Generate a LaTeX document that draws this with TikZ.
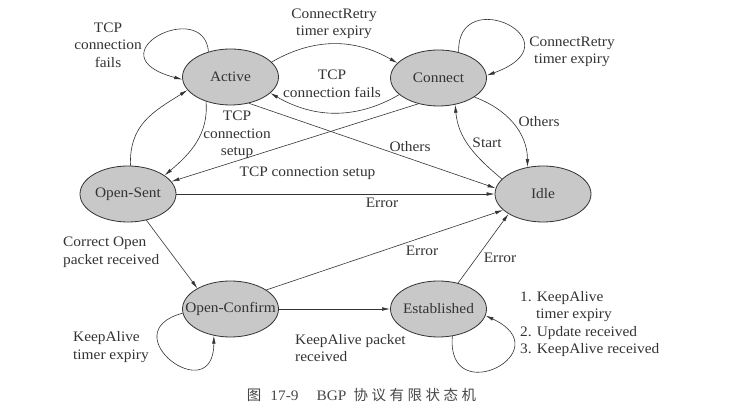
\documentclass[tikz,border=0pt]{standalone}
\usepackage{fontspec}
\setmainfont{Liberation Serif}[FakeStretch=1.06]
\newfontfamily\cjk{Noto Sans CJK SC}
\usetikzlibrary{shapes.geometric,arrows.meta}
\definecolor{ink}{HTML}{333333}
\definecolor{statefill}{HTML}{C8C8C8}
\tikzset{
  st/.style={ellipse, draw=ink, line width=0.8pt, fill=statefill, minimum width=96pt, minimum height=56pt, inner sep=0pt, text=ink},
  lbl/.style={inner sep=0pt, text=ink, align=center},
  lbll/.style={inner sep=0pt, text=ink, align=left, anchor=west},
  arr/.style={draw=ink, line width=0.6pt, -{Latex[length=8pt,width=3.6pt]}},
}
\begin{document}
\begin{tikzpicture}[x=1pt,y=1pt,font=\fontsize{14.5}{17.5}\selectfont]
\useasboundingbox (0,0) rectangle (745,-411);
% states
\node[st] (A)  at (230.5,-77)  {\makebox[0pt]{Active}};
\node[st] (C)  at (438.5,-78)  {\makebox[0pt]{Connect}};
\node[st] (I)  at (543,-194)   {\makebox[0pt]{Idle}};
\node[st] (OS) at (128,-194)   {\makebox[0pt]{Open-Sent}};
\node[st] (OC) at (230.5,-309) {\makebox[0pt]{Open-Confirm}};
\node[st] (E)  at (438.5,-309) {\makebox[0pt]{Established}};
% transitions
\draw[arr] (A.131) .. controls +(95:55) and +(165:95) .. (A.183);
\draw[arr] (A.20) to[out=30,in=150] (C.160);
\draw[arr] (C.203) to[out=-150,in=-30] (A.-22);
\draw[arr] (C.52) .. controls +(92:70) and +(20:100) .. (C.3);
\draw[arr] (C.-28) to[out=-20,in=90] (I.120);
\draw[arr] (I.160) to[out=140,in=-85] (C.-58);
\draw[arr] (A.-55) -- (I.173);
\draw[arr] (C.-128) -- (OS.16);
\draw[arr] (A.-135) to[out=-85,in=40] (OS.27);
\draw[arr] (OS.85) to[out=92,in=212,looseness=1.1] (A.197);
\draw[arr] (OS.east) -- (I.west);
\draw[arr] (OS.-55) -- (OC.148);
\draw[arr] (OC.28) -- (I.202);
\draw[arr] (OC.east) -- (E.west);
\draw[arr] (E.53) -- (I.210);
\draw[arr] (OC.185) .. controls +(195:75) and +(-90:75) .. (OC.238);
\draw[arr] (E.-63) .. controls +(-95:75) and +(-25:85) .. (E.-8);
% labels
\node[lbl] (l1) at (108,-45) {TCP\\connection\\fails};
\node[lbl] (l2) at (334,-24) {ConnectRetry\\timer expiry};
\node[lbl] (l3) at (332,-84) {TCP\\connection fails};
\node[lbl] (l4) at (572,-52) {ConnectRetry\\timer expiry};
\node[lbl] (l5) at (539,-122) {Others};
\node[lbl] (l6) at (487,-143) {Start};
\node[lbl] (l7) at (410,-147) {Others};
\node[lbl] (l8) at (237,-135) {TCP\\connection\\setup};
\node[lbl] (l9) at (307.5,-173) {TCP connection setup};
\node[lbl] (l10) at (382,-203) {Error};
\node[lbll] (l11) at (63,-252) {Correct Open\\packet received};
\node[lbl] (l12) at (422,-251) {Error};
\node[lbl] (l13) at (500,-258) {Error};
\node[lbll] (l14) at (73,-347) {KeepAlive\\timer expiry};
\node[lbll] (l15) at (295,-348) {KeepAlive packet\\received};
\node[lbll] (l16) at (520,-324) {1. KeepAlive\\\hspace*{16pt}timer expiry\\2. Update received\\3. KeepAlive received};
% caption
\node[inner sep=0pt, text=ink!90] (cap) at (361.5,-395) {{\cjk 图}\hspace{9pt}17-9\hspace{18pt}BGP\hspace{7pt}{\cjk 协\hspace{3.5pt}议\hspace{3.5pt}有\hspace{3.5pt}限\hspace{3.5pt}状\hspace{3.5pt}态\hspace{3.5pt}机}};
\end{tikzpicture}
\end{document}
